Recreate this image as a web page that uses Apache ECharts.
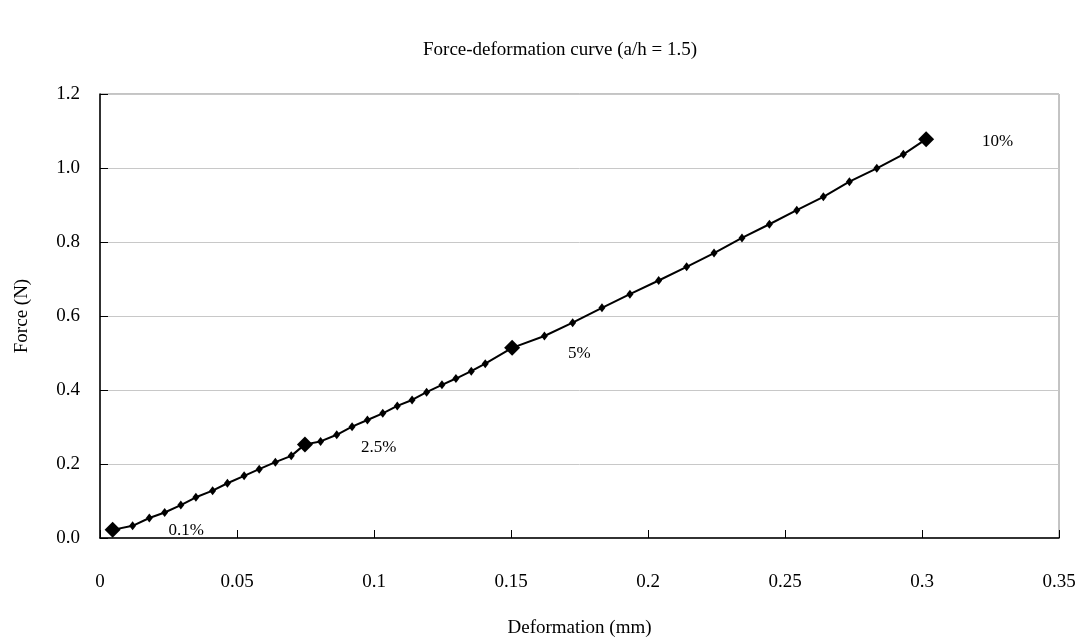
<!DOCTYPE html>
<html>
<head>
<meta charset="utf-8">
<script src="https://cdn.jsdelivr.net/npm/echarts@6/dist/echarts.min.js"></script>
<style>
  html, body { margin: 0; padding: 0; background: #fff; }
  #chart { width: 1087px; height: 643px; }
</style>
</head>
<body>
<div id="chart"></div>
<script>
// deformation (mm) and force (N)
var deformation = [0.0046, 0.0119, 0.0180, 0.0236, 0.0295, 0.0350, 0.0411, 0.0465, 0.0526, 0.0581,
  0.0640, 0.0698, 0.0748, 0.0805, 0.0864, 0.0920, 0.0976, 0.1032, 0.1085, 0.1139,
  0.1192, 0.1248, 0.1299, 0.1355, 0.1406, 0.1504, 0.1622, 0.1725, 0.1832, 0.1934,
  0.2039, 0.2141, 0.2241, 0.2343, 0.2443, 0.2543, 0.2640, 0.2735, 0.2835, 0.2932, 0.3015]
var force = [0.022, 0.033, 0.054, 0.069, 0.089, 0.110, 0.128, 0.148, 0.168, 0.186,
  0.205, 0.222, 0.253, 0.261, 0.279, 0.301, 0.319, 0.337, 0.357, 0.373,
  0.394, 0.414, 0.431, 0.451, 0.471, 0.514, 0.546, 0.582, 0.622, 0.659,
  0.696, 0.733, 0.770, 0.811, 0.848, 0.886, 0.922, 0.963, 0.999, 1.037, 1.078]

// strain marks
var keyDeformation = [0.0046, 0.0748, 0.1504, 0.3015]
var keyForce = [0.022, 0.253, 0.514, 1.078]
var keyLabels = ['0.1%', '2.5%', '5%', '10%']
var keyLabelShift = [1, 3, 6, 2]

var font = '"Liberation Serif", "Times New Roman", serif'

var lineData = []
for (var i = 0; i < deformation.length; i++) {
  lineData.push([deformation[i], force[i]])
}
var keyData = []
for (var k = 0; k < keyDeformation.length; k++) {
  keyData.push({
    value: [keyDeformation[k], keyForce[k]],
    label: { formatter: keyLabels[k], offset: [0, keyLabelShift[k]] }
  })
}

var chart = echarts.init(document.getElementById('chart'))
chart.setOption({
  animation: false,
  textStyle: { fontFamily: font },
  title: {
    text: 'Force-deformation curve (a/h = 1.5)',
    left: 555,
    top: 36,
    textAlign: 'center',
    textStyle: { fontFamily: font, fontSize: 19, fontWeight: 'normal', color: '#000' }
  },
  grid: {
    left: 100, right: 28, top: 94, bottom: 104,
    show: true, borderColor: '#888', borderWidth: 1
  },
  xAxis: {
    type: 'value',
    min: 0, max: 0.35, interval: 0.05,
    name: 'Deformation (mm)',
    nameLocation: 'middle',
    nameGap: 81,
    nameTextStyle: { fontFamily: font, fontSize: 19, color: '#000' },
    axisLine: { show: true, onZero: false, lineStyle: { color: '#000', width: 1.5 } },
    axisTick: { show: true, inside: true, length: 8, lineStyle: { color: '#000' } },
    axisLabel: { margin: 35, fontFamily: font, fontSize: 19, color: '#000' },
    splitLine: { show: false }
  },
  yAxis: {
    type: 'value',
    min: 0, max: 1.2, interval: 0.2,
    name: 'Force (N)',
    nameLocation: 'middle',
    nameGap: 68,
    nameTextStyle: { fontFamily: font, fontSize: 19, color: '#000' },
    axisLine: { show: true, onZero: false, lineStyle: { color: '#000', width: 1.5 } },
    axisTick: { show: true, inside: true, length: 8, lineStyle: { color: '#000' } },
    axisLabel: {
      margin: 20, fontFamily: font, fontSize: 19, color: '#000',
      formatter: function (v) { return v.toFixed(1) }
    },
    splitLine: { show: true, lineStyle: { color: '#c8c8c8', width: 1 } }
  },
  series: [
    {
      type: 'line',
      data: lineData,
      symbol: 'diamond',
      symbolSize: [7, 9],
      showAllSymbol: true,
      lineStyle: { color: '#000', width: 2 },
      itemStyle: { color: '#000', opacity: 1 },
      z: 2
    },
    {
      type: 'scatter',
      data: keyData,
      symbol: 'diamond',
      symbolSize: 16,
      itemStyle: { color: '#000', opacity: 1 },
      label: {
        show: true,
        position: 'right',
        distance: 48,
        fontFamily: font,
        fontSize: 17,
        color: '#000'
      },
      z: 3
    }
  ]
})
</script>
</body>
</html>
